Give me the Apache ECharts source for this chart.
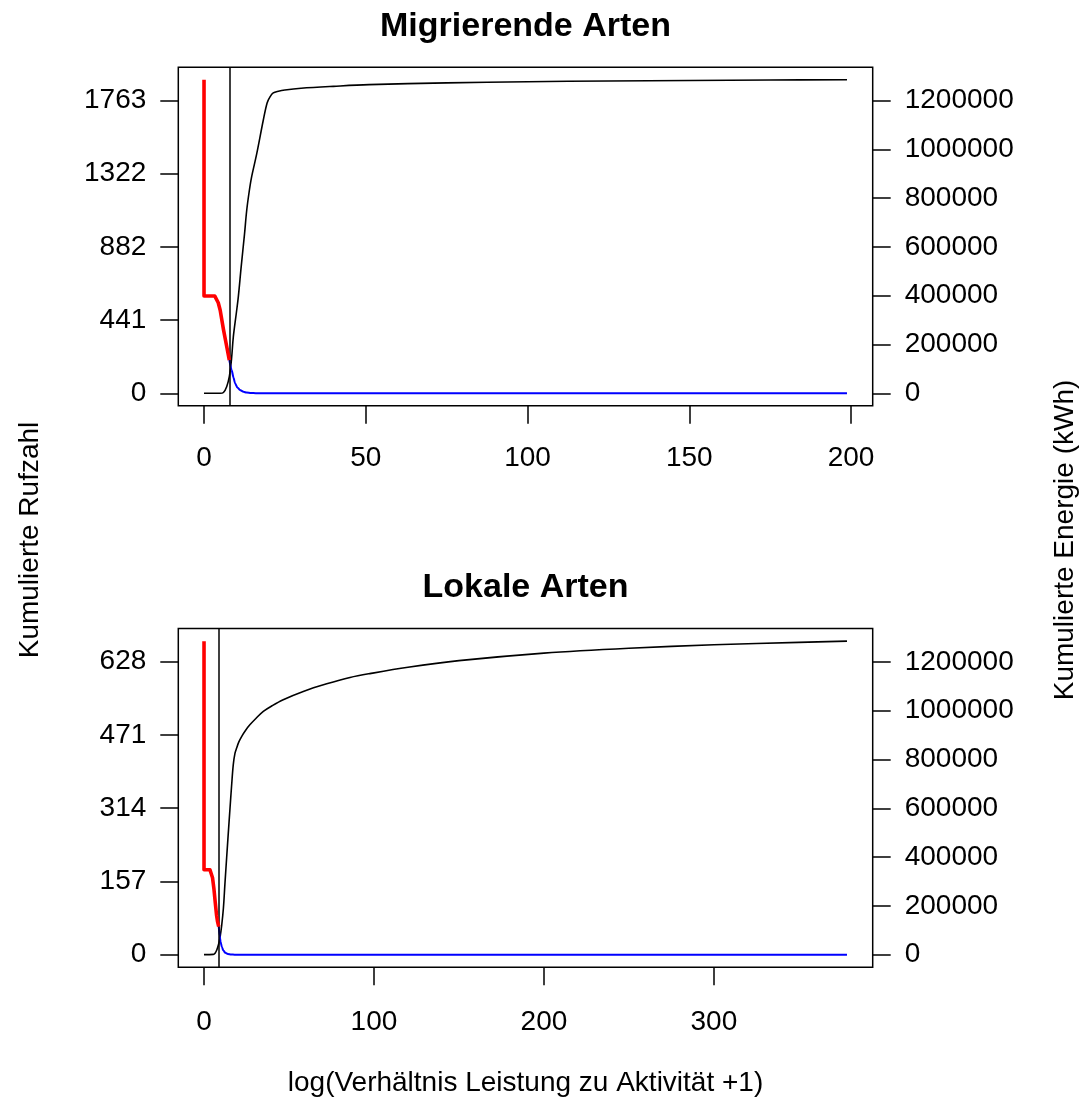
<!DOCTYPE html>
<html><head><meta charset="utf-8">
<script src="https://cdn.jsdelivr.net/npm/echarts@6/dist/echarts.min.js"></script>
<style>html,body{margin:0;padding:0;background:#fff}#c{width:1082px;height:1106px}</style>
</head><body><div id="c"></div>
<script>
const FONT = '"Liberation Sans", Arial, Helvetica, sans-serif';

// ---------- Migrierende Arten ----------
const migCutoff = 7.82;
const migRedX = [0, 0, 3.3, 3.9, 4.4, 5.0, 6.0, 7.0, 7.82];
const migRedY = [1888, 586, 586, 575, 545, 500, 385, 283, 200];
const migBlueX = [7.82, 8.55, 9.1, 9.6, 10.3, 11.1, 12.2, 13.2, 14.5, 16, 18, 198.75];
const migBlueY = [200, 140, 95, 60, 35, 20, 9, 4, 1.5, 0.4, 0, 0];
const migEnergyX = [0, 5, 6, 7, 7.82, 8.5, 9.06, 10, 10.6, 11.5, 12.5, 13.2, 14, 14.7, 16.3, 18.3, 19.5, 20.4, 21.4, 23, 25, 30, 40, 51, 75, 100, 125, 150, 175, 198.75];
const migEnergyY = [0, 0, 3000, 27000, 68000, 140000, 231000, 330000, 395000, 520000, 650000, 750000, 830000, 886000, 982000, 1118000, 1190000, 1215000, 1231000, 1238000, 1243000, 1250000, 1258000, 1265000, 1272000, 1277000, 1280000, 1282000, 1284000, 1285000];
const migXTicks = [0, 50, 100, 150, 200];
const migLeftTicks = [0, 441, 882, 1322, 1763];

// ---------- Lokale Arten ----------
const lokCutoff = 8.65;
const lokRedX = [0, 0, 3.5, 4.3, 5.0, 5.8, 6.6, 7.4, 7.9, 8.65];
const lokRedY = [672, 182, 182, 178, 165, 142, 112, 84, 72, 60];
const lokBlueX = [8.65, 9.2, 9.8, 10.5, 11.4, 12.5, 14, 16, 18, 378.3];
const lokBlueY = [60, 40, 27, 16, 9, 4, 1.5, 0.3, 0, 0];
const lokEnergyX = [0, 5.5, 6.5, 7.5, 8.65, 9.4, 10.4, 11.4, 12.3, 13.3, 14.3, 15.3, 16.2, 17.2, 18.2, 19.2, 20.5, 22.2, 24.5, 27.1, 30.5, 34.9, 40, 46.6, 58.4, 72.2, 85.9, 97.6, 120, 150, 200, 250, 300, 350, 378.3];
const lokEnergyY = [0, 1000, 6000, 19000, 45000, 70000, 120000, 190000, 290000, 396000, 500000, 601000, 690000, 778000, 825000, 847000, 872000, 895000, 920000, 943000, 968000, 997000, 1020000, 1045000, 1079000, 1110000, 1136000, 1152000, 1178000, 1205000, 1236000, 1256000, 1270000, 1280000, 1285000];
const lokXTicks = [0, 100, 200, 300];
const lokLeftTicks = [0, 157, 314, 471, 628];

const energyTicks = [0, 200000, 400000, 600000, 800000, 1000000, 1200000];

// ---------- texts ----------
const titles = ['Migrierende Arten', 'Lokale Arten'];
const leftLabel = 'Kumulierte Rufzahl';
const rightLabel = 'Kumulierte Energie (kWh)';
const bottomLabel = 'log(Verhältnis Leistung zu Aktivität +1)';

function zip(xs, ys) { return xs.map((x, i) => [x, ys[i]]); }
function rlim(arrs) {
  let lo = Infinity, hi = -Infinity;
  arrs.forEach(a => a.forEach(v => { lo = Math.min(lo, v); hi = Math.max(hi, v); }));
  const d = (hi - lo) * 0.04;
  return [lo - d, hi + d];
}

const GL = 178.3, GW = 694.4, GH = 338.6;
const grids = [
  { left: GL, top: 67.2, width: GW, height: GH, show: true, borderColor: '#000', borderWidth: 1.5, backgroundColor: 'transparent' },
  { left: GL, top: 628.6, width: GW, height: GH, show: true, borderColor: '#000', borderWidth: 1.5, backgroundColor: 'transparent' }
];

const tickStyle = { show: true, length: 18, lineStyle: { color: '#000', width: 1.5 } };
const lblBase = { color: '#000', fontSize: 28, fontFamily: FONT };

function xAxis(gi, lim, ticks, margin) {
  return {
    type: 'value', gridIndex: gi, min: lim[0], max: lim[1], position: 'bottom',
    axisLine: { show: false, onZero: false }, splitLine: { show: false },
    axisTick: Object.assign({ customValues: ticks }, tickStyle),
    axisLabel: Object.assign({ customValues: ticks, margin: margin }, lblBase)
  };
}
function yAxis(gi, lim, ticks, pos) {
  return {
    type: 'value', gridIndex: gi, position: pos, min: lim[0], max: lim[1],
    axisLine: { show: false, onZero: false }, splitLine: { show: false },
    axisTick: Object.assign({ customValues: ticks }, tickStyle),
    axisLabel: Object.assign({ customValues: ticks, margin: 32, formatter: v => String(Math.round(v)) }, lblBase)
  };
}

const migXLim = rlim([migRedX, migBlueX, migEnergyX]);
const lokXLim = rlim([lokRedX, lokBlueX, lokEnergyX]);
const migYLim = rlim([migRedY, migBlueY]);
const lokYLim = rlim([lokRedY, lokBlueY]);
const migELim = rlim([migEnergyY]);
const lokELim = rlim([lokEnergyY]);

function seriesFor(xi, yl, yr, redX, redY, blueX, blueY, eX, eY, cut) {
  return [
    { type: 'line', xAxisIndex: xi, yAxisIndex: yr, data: zip(eX, eY), symbol: 'none', smooth: 0.35,
      lineStyle: { color: '#000', width: 1.6 }, z: 3,
      markLine: { silent: true, symbol: ['none', 'none'], label: { show: false },
        lineStyle: { color: '#000', width: 1.5, type: 'solid' }, data: [{ xAxis: cut }] } },
    { type: 'line', xAxisIndex: xi, yAxisIndex: yl, data: zip(blueX, blueY), symbol: 'none', smooth: 0.25, smoothMonotone: 'x',
      lineStyle: { color: '#0000FF', width: 2 }, z: 4 },
    { type: 'line', xAxisIndex: xi, yAxisIndex: yl, data: zip(redX, redY), symbol: 'none',
      lineStyle: { color: '#FF0000', width: 3.6, cap: 'butt', join: 'round' }, z: 5 }
  ];
}

const textStyle = (t, x, y, size, bold, rot) => ({
  type: 'text', x: x, y: y, rotation: rot || 0, silent: true,
  style: { text: t, fill: '#000', font: (bold ? 'bold ' : '') + size + 'px ' + FONT, textAlign: 'center', textVerticalAlign: 'middle' }
});

const chart = echarts.init(document.getElementById('c'), null, { renderer: 'canvas' });
chart.setOption({
  animation: false,
  backgroundColor: '#fff',
  grid: grids,
  xAxis: [xAxis(0, migXLim, migXTicks, 38), xAxis(1, lokXLim, lokXTicks, 41)],
  yAxis: [
    yAxis(0, migYLim, migLeftTicks, 'left'), yAxis(0, migELim, energyTicks, 'right'),
    yAxis(1, lokYLim, lokLeftTicks, 'left'), yAxis(1, lokELim, energyTicks, 'right')
  ],
  series: [].concat(
    seriesFor(0, 0, 1, migRedX, migRedY, migBlueX, migBlueY, migEnergyX, migEnergyY, migCutoff),
    seriesFor(1, 2, 3, lokRedX, lokRedY, lokBlueX, lokBlueY, lokEnergyX, lokEnergyY, lokCutoff)
  ),
  graphic: [
    textStyle(titles[0], GL + GW / 2, 27, 34, true),
    textStyle(titles[1], GL + GW / 2, 588, 34, true),
    textStyle(leftLabel, 30, 540, 28, false, Math.PI / 2),
    textStyle(rightLabel, 1065, 540, 28, false, Math.PI / 2),
    textStyle(bottomLabel, GL + GW / 2, 1083, 28, false)
  ]
});
</script></body></html>
